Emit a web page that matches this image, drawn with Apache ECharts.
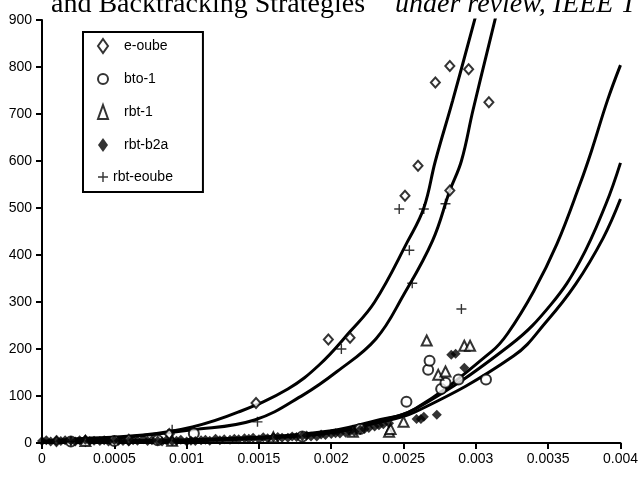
<!DOCTYPE html>
<html>
<head>
<meta charset="utf-8">
<script src="https://cdn.jsdelivr.net/npm/echarts@6/dist/echarts.min.js"></script>
<style>
html,body{margin:0;padding:0;background:#fff;}
#chart{width:641px;height:477px;}
</style>
</head>
<body>
<div id="chart"></div>
<script>
// ---- tick labels ----
var xTickLabels = ['0','0.0005','0.001','0.0015','0.002','0.0025','0.003','0.0035','0.004'];
var yTickLabels = ['0','100','200','300','400','500','600','700','800','900'];

// ---- scatter series ----
var eOube = [
  [0.0001,4],[0.0003,5],[0.0006,7],[0.00088,19],[0.00148,85],
  [0.00198,220],[0.00213,224],[0.00251,526],[0.0026,590],[0.00272,767],
  [0.00282,802],[0.00282,537],[0.00295,795],[0.00309,725]
];
var bto1 = [
  [0.0002,3],[0.0005,4],[0.0008,6],[0.00105,20],[0.0018,14],[0.0022,30],
  [0.00252,88],[0.00267,156],[0.00268,175],[0.00276,115],[0.00279,128],
  [0.00288,135],[0.00307,135]
];
var rbt1 = [
  [0.0003,4],[0.0009,5],[0.0016,12],[0.00215,24],[0.0024,24],[0.00241,30],
  [0.0025,45],[0.00266,218],[0.00274,145],[0.00279,152],[0.00292,207],[0.00296,207]
];
var rbtB2a = [
  [0,4],[0.00003,6],[0.00006,3],[0.0001,5],[0.00013,4],[0.00016,6],[0.0002,5],
  [0.00023,3],[0.00026,6],[0.0003,7],[0.00033,4],[0.00036,5],[0.0004,4],
  [0.00043,6],[0.00046,3],[0.0005,6],[0.00053,5],[0.00056,4],[0.0006,3],
  [0.00063,6],[0.00066,5],[0.0007,8],[0.00073,4],[0.00076,6],[0.0008,5],
  [0.00083,3],[0.00086,6],[0.0009,4],[0.00093,5],[0.00096,7],[0.001,3],
  [0.00103,5],[0.00106,4],[0.0011,6],[0.00113,7],[0.00116,5],[0.0012,9],
  [0.00123,6],[0.00126,8],[0.0013,7],[0.00133,9],[0.00136,8],[0.0014,10],
  [0.00143,9],[0.00146,11],[0.0015,8],[0.00153,12],[0.00156,10],[0.0016,12],
  [0.00163,13],[0.00166,11],[0.0017,11],[0.00173,14],[0.00176,13],[0.0018,15],
  [0.00183,16],[0.00186,14],[0.0019,14],[0.00193,18],[0.00196,17],[0.002,19],
  [0.00203,21],[0.00206,20],[0.0021,22],[0.00213,25],[0.00216,24],[0.0022,28],
  [0.00223,30],[0.00226,32],[0.0023,35],[0.00233,38],[0.00236,40],[0.0024,42],
  [0.00259,51],[0.00262,51],[0.00264,56],[0.00273,60],[0.00283,188],
  [0.00286,190],[0.00292,160]
];
var rbtEoube = [
  [0.0002,3],[0.0009,28],[0.00149,45],[0.00207,200],[0.00247,498],
  [0.00254,410],[0.00256,340],[0.00264,498],[0.00279,509],[0.0029,285]
];

// ---- fitted curves ----
var curveL1 = [
  [0,3],[0.0002,8],[0.0007,17],[0.00104,34],[0.00136,66],[0.0017,115],
  [0.00192,167],[0.00213,237],[0.0023,300],[0.00253,430],[0.00264,500],
  [0.00272,600],[0.00284,729],[0.003,910]
];
var curveL2 = [
  [0,2],[0.0005,10],[0.00104,28],[0.00147,49],[0.00181,103],[0.00204,152],
  [0.00231,222],[0.0025,315],[0.0027,430],[0.00282,537],[0.0029,600],
  [0.00298,708],[0.00314,910]
];
var curveA = [
  [0,2],[0.0005,4],[0.001,7],[0.0015,12],[0.002,26],[0.0023,47],[0.00258,73],
  [0.00311,195],[0.00322,233],[0.0034,323],[0.00356,423],[0.00372,551],
  [0.0038,622],[0.00391,729],[0.004,804]
];
var curveB = [
  [0,1],[0.0005,3],[0.001,6],[0.0015,11],[0.002,24],[0.0023,45],[0.00258,72],
  [0.00324,209],[0.00352,295],[0.00372,387],[0.0039,509],[0.004,596]
];
var curveC = [
  [0,1],[0.0005,2],[0.001,5],[0.0015,10],[0.002,22],[0.0023,42],[0.00258,66],
  [0.00326,185],[0.00349,259],[0.00369,338],[0.00388,436],[0.004,519]
];

var plusPath = 'path://M4.3,0h1.4v4.3h4.3v1.4h-4.3v4.3h-1.4v-4.3h-4.3v-1.4h4.3z';
var font = 'Liberation Sans, Arial, sans-serif';

function scatter(name, data, symbol, size, filled) {
  return {
    name: name, type: 'scatter', data: data, symbol: symbol, symbolSize: size,
    itemStyle: filled ? {color: '#000'} : {color: '#000', borderColor: '#000', borderWidth: 1.5},
    z: 3
  };
}
function curve(data) {
  return {
    type: 'line', data: data, smooth: 0.4, showSymbol: false, silent: true,
    lineStyle: {color: '#000', width: 3}, z: 2
  };
}

var chart = echarts.init(document.getElementById('chart'), null, {renderer: 'canvas'});
chart.setOption({
  backgroundColor: '#fff',
  animation: false,
  graphic: [
    {type: 'text', left: 51, top: -9, style: {text: 'and Backtracking Strategies', font: '28px "Liberation Serif", "Times New Roman", serif', fill: '#000'}},
    {type: 'text', left: 395, top: -9, style: {text: 'under review, IEEE T', font: 'italic 28px "Liberation Serif", "Times New Roman", serif', fill: '#000'}}
  ],
  grid: {left: 42, right: 13, top: 20, bottom: 34},
  legend: {
    orient: 'vertical', left: 83, top: 32,
    padding: [6, 30, 8, 14],
    itemWidth: 10, itemHeight: 14, itemGap: 18,
    borderColor: '#000', borderWidth: 2, backgroundColor: '#fff',
    textStyle: {fontFamily: font, fontSize: 14, color: '#000', padding: [0, 0, 0, 11]},
    data: [
      {name: 'e-oube', icon: 'emptyDiamond'},
      {name: 'bto-1', icon: 'emptyCircle'},
      {name: 'rbt-1', icon: 'emptyTriangle'},
      {name: 'rbt-b2a', icon: 'diamond'},
      {name: 'rbt-eoube', icon: plusPath, textStyle: {padding: [0, 0, 0, 0]}}
    ]
  },
  xAxis: {
    type: 'value', min: 0, max: 0.004, interval: 0.0005,
    splitLine: {show: false},
    axisLine: {lineStyle: {color: '#000', width: 2}},
    axisTick: {length: 6, lineStyle: {color: '#000', width: 2}},
    axisLabel: {
      color: '#000', fontFamily: font, fontSize: 14, margin: 9,
      formatter: function (v) { return xTickLabels[Math.round(v / 0.0005)]; }
    }
  },
  yAxis: {
    type: 'value', min: 0, max: 900, interval: 100,
    splitLine: {show: false},
    axisLine: {show: true, lineStyle: {color: '#000', width: 2}},
    axisTick: {show: true, length: 6, lineStyle: {color: '#000', width: 2}},
    axisLabel: {
      color: '#000', fontFamily: font, fontSize: 14, margin: 10,
      formatter: function (v) { return yTickLabels[Math.round(v / 100)]; }
    }
  },
  series: [
    curve(curveL1), curve(curveL2), curve(curveA), curve(curveB), curve(curveC),
    scatter('e-oube', eOube, 'emptyDiamond', [9, 10], false),
    scatter('bto-1', bto1, 'emptyCircle', 10, false),
    scatter('rbt-1', rbt1, 'emptyTriangle', 10, false),
    scatter('rbt-b2a', rbtB2a, 'diamond', 10, true),
    scatter('rbt-eoube', rbtEoube, plusPath, 10, true)
  ]
});
</script>
</body>
</html>
